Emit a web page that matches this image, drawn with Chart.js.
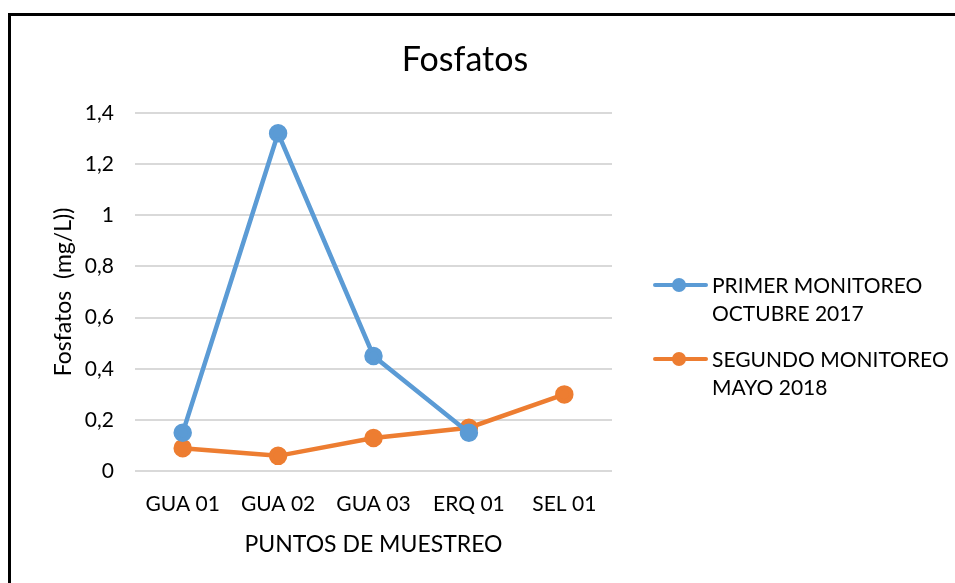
<!DOCTYPE html>
<html>
<head>
<meta charset="utf-8">
<script src="https://cdn.jsdelivr.net/npm/chart.js@4/dist/chart.umd.min.js"></script>
<style>
  html, body { margin: 0; padding: 0; background: #fff; overflow: hidden; }
  #wrap { position: relative; width: 955px; height: 583px; }
  #frame { position: absolute; left: 8px; top: 13px; width: 1000px; height: 1000px; border: 3px solid #000; box-sizing: border-box; pointer-events: none; }
  #legend { position: absolute; left: 653px; top: 0; font-family: Lato, sans-serif; font-size: 21px; color: #000; }
  .item { position: absolute; left: 0; width: 290px; }
  .sample { position: absolute; left: 0; width: 55px; height: 4px; border-radius: 2px; }
  .dot { position: absolute; left: 19px; width: 14px; height: 14px; border-radius: 50%; }
  .txt { position: absolute; left: 59px; line-height: 28px; white-space: nowrap; }
</style>
</head>
<body>
<div id="wrap">
  <canvas id="chart" width="955" height="583"></canvas>
  <div id="frame"></div>
  <div id="legend"></div>
</div>
<script>
// datos
let puntos = ['GUA 01', 'GUA 02', 'GUA 03', 'ERQ 01', 'SEL 01'];
let primerMonitoreo = [0.15, 1.32, 0.45, 0.15, null];
let segundoMonitoreo = [0.09, 0.06, 0.13, 0.17, 0.30];
let etiquetas = [['PRIMER MONITOREO', 'OCTUBRE 2017'], ['SEGUNDO MONITOREO', 'MAYO 2018']];
let colores = ['#5B9BD5', '#ED7D31'];

let fuente = 'Lato, sans-serif';

let ctx = document.getElementById('chart');

// el titulo va centrado sobre todo el grafico, no solo sobre el area de datos
let tituloCentrado = {
    id: 'tituloCentrado',
    afterLayout: function(chart) {
        if (chart.titleBlock) {
            chart.titleBlock.left = 0;
            chart.titleBlock.right = 930;
        }
    }
};

let chart = new Chart(ctx, {
    type: 'line',
    data: {
        labels: puntos,
        datasets: [{
            label: etiquetas[0].join(' '),
            data: primerMonitoreo,
            borderColor: colores[0],
            backgroundColor: colores[0],
            borderWidth: 4.5,
            pointRadius: 7,
            pointHoverRadius: 7,
            tension: 0
        }, {
            label: etiquetas[1].join(' '),
            data: segundoMonitoreo,
            borderColor: colores[1],
            backgroundColor: colores[1],
            borderWidth: 4.5,
            pointRadius: 7,
            pointHoverRadius: 7,
            tension: 0
        }]
    },
    options: {
        responsive: false,
        animation: false,
        events: [],
        layout: {
            padding: { left: 50, right: 343, top: 0, bottom: 25 }
        },
        plugins: {
            legend: { display: false },
            tooltip: { enabled: false },
            title: {
                display: true,
                text: 'Fosfatos',
                color: '#000',
                font: { family: fuente, size: 34, weight: 'normal' },
                padding: { top: 40, bottom: 32 }
            }
        },
        scales: {
            x: {
                offset: true,
                grid: { display: false, drawTicks: false },
                border: { display: false },
                ticks: {
                    color: '#000',
                    font: { family: fuente, size: 21 },
                    padding: 20,
                    maxRotation: 0,
                    autoSkip: false
                },
                title: {
                    display: true,
                    text: 'PUNTOS DE MUESTREO',
                    color: '#000',
                    font: { family: fuente, size: 23 },
                    padding: { top: -6, bottom: 0 }
                }
            },
            y: {
                min: 0,
                max: 1.4,
                grid: { color: '#D9D9D9', lineWidth: 2, drawTicks: false },
                border: { display: false },
                ticks: {
                    stepSize: 0.2,
                    color: '#000',
                    font: { family: fuente, size: 21 },
                    padding: 21,
                    callback: function(v) {
                        return (Math.round(v * 10) / 10).toString().replace('.', ',');
                    }
                },
                title: {
                    display: true,
                    text: 'Fosfatos  (mg/L))',
                    color: '#000',
                    font: { family: fuente, size: 23 },
                    padding: { top: 0, bottom: 0 }
                },
                afterFit: function(scale) {
                    scale.width = 85;
                }
            }
        }
    },
    plugins: [tituloCentrado]
});

// leyenda en HTML a la derecha
let legend = document.getElementById('legend');
let filas = [285, 359];
for (let i = 0; i < etiquetas.length; i++) {
    let y = filas[i];
    legend.insertAdjacentHTML('beforeend',
        `<div class="item" style="top:${y}px">
            <div class="sample" style="top:-2px;background:${colores[i]}"></div>
            <div class="dot" style="top:-7px;background:${colores[i]}"></div>
            <div class="txt" style="top:-14px">${etiquetas[i][0]}<br>${etiquetas[i][1]}</div>
        </div>`);
}
</script>
</body>
</html>
